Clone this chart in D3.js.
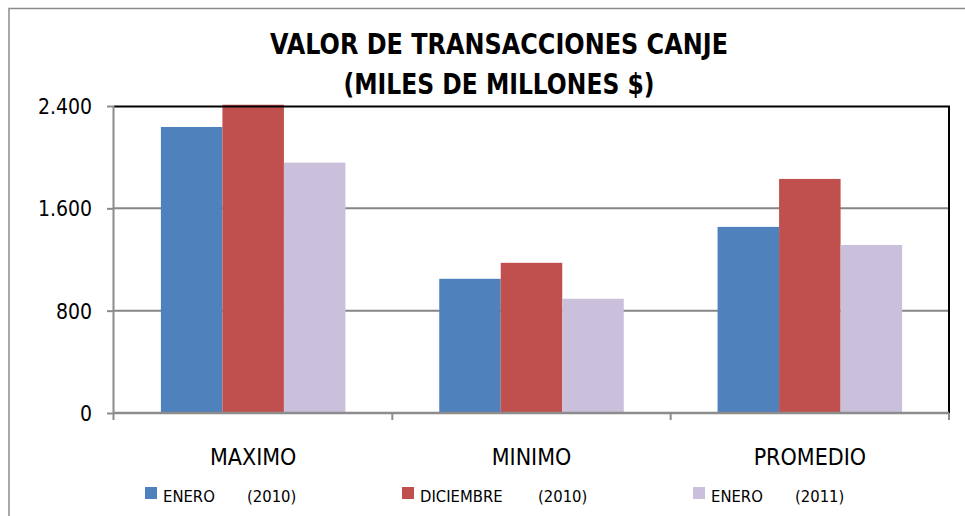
<!DOCTYPE html>
<html>
<head>
<meta charset="utf-8">
<script src="https://cdn.jsdelivr.net/npm/d3@7"></script>
<style>
  body { margin: 0; background: #fff; }
  svg text { font-family: "Liberation Sans Narrow", "DejaVu Sans Condensed", "Noto Sans", sans-serif; fill: #000; }
</style>
</head>
<body>
<div id="chart"></div>
<script>
// Chart data
var categories = ["MAXIMO", "MINIMO", "PROMEDIO"];
var seriesMonths = ["ENERO", "DICIEMBRE", "ENERO"];
var seriesYears = ["(2010)", "(2010)", "(2011)"];
var enero2010 = [2236, 1049, 1455];
var diciembre2010 = [2410, 1174, 1830];
var enero2011 = [1957, 893, 1314];
var yTicks = [0, 800, 1600, 2400];
var yTickLabels = ["0", "800", "1.600", "2.400"];

var colors = ["#4f81bd", "#c0504d", "#cbc0dc"];
var seriesValues = [enero2010, diciembre2010, enero2011];

var svgWidth = 965;
var svgHeight = 516;

var margin = { top: 106, left: 114 };
var width = 949 - margin.left;
var height = 413 - margin.top;

var svg = d3.select("#chart")
  .append("svg")
  .attr("width", svgWidth)
  .attr("height", svgHeight);

// outer chart frame
svg.append("rect")
  .attr("x", 9).attr("y", 8.5)
  .attr("width", 965).attr("height", 520)
  .attr("fill", "none")
  .attr("stroke", "#8c8c8c")
  .attr("stroke-width", 1.5);

// Title
var title = svg.append("text")
  .attr("text-anchor", "middle")
  .style("font-size", "29px")
  .style("font-weight", "bold");
title.append("tspan").attr("x", 499).attr("y", 54)
  .attr("textLength", 458).attr("lengthAdjust", "spacingAndGlyphs")
  .text("VALOR DE TRANSACCIONES CANJE");
title.append("tspan").attr("x", 499).attr("y", 94)
  .attr("textLength", 311).attr("lengthAdjust", "spacingAndGlyphs")
  .text("(MILES DE MILLONES $)");

var chartGroup = svg.append("g")
  .attr("transform", `translate(${margin.left}, ${margin.top})`);

// Scales
var x0 = d3.scaleBand()
  .domain(categories)
  .range([0, width]);

var x1 = d3.scaleBand()
  .domain(d3.range(seriesValues.length))
  .range([x0.bandwidth() * 0.1685, x0.bandwidth() * 0.8315]);

var yScale = d3.scaleLinear()
  .domain([0, 2400])
  .range([height, 0]);

// Gridlines
chartGroup.append("g")
  .selectAll("line")
  .data(yTicks.slice(1, 3))
  .enter()
  .append("line")
  .attr("x1", 0)
  .attr("x2", width)
  .attr("y1", d => yScale(d))
  .attr("y2", d => yScale(d))
  .attr("stroke", "#868686")
  .attr("stroke-width", 2);

// Bars
categories.forEach(function(cat, ci) {
  chartGroup.append("g")
    .selectAll("rect")
    .data(seriesValues.map((vals, si) => ({ si: si, v: vals[ci] })))
    .enter()
    .append("rect")
    .attr("x", d => x0(cat) + x1(d.si))
    .attr("width", x1.bandwidth())
    .attr("y", d => yScale(d.v))
    .attr("height", d => height - yScale(d.v))
    .attr("fill", d => colors[d.si]);
});

// Plot area border top/right (black)
chartGroup.append("path")
  .attr("d", `M0,0.5H${width}V${height}`)
  .attr("fill", "none")
  .attr("stroke", "#000")
  .attr("stroke-width", 2);

// Left axis
var leftAxis = d3.axisLeft(yScale)
  .tickValues(yTicks)
  .tickSize(7)
  .tickPadding(15)
  .tickFormat((d, i) => yTickLabels[i]);

var yAxisG = chartGroup.append("g").call(leftAxis);
yAxisG.select(".domain").attr("stroke", "#8c8c8c").attr("stroke-width", 2).attr("d", `M-0.5,0V${height + 7}`);
yAxisG.selectAll(".tick line").attr("stroke", "#8c8c8c").attr("stroke-width", 2);
yAxisG.selectAll(".tick text")
  .style("font-size", "21px")
  .attr("dy", "0.35em");

// Bottom axis
var bottomAxis = d3.axisBottom(x0).tickSize(0).tickPadding(36);
var xAxisG = chartGroup.append("g")
  .attr("transform", `translate(0, ${height})`)
  .call(bottomAxis);
xAxisG.select(".domain").attr("stroke", "#8c8c8c").attr("stroke-width", 2.5).attr("d", `M0,0H${width}`);
xAxisG.selectAll(".tick text").style("font-size", "23px");

// category boundary ticks
xAxisG.selectAll("line.sep")
  .data(categories.map(c => x0(c) + x0.bandwidth()))
  .enter()
  .append("line")
  .attr("class", "sep")
  .attr("x1", d => d).attr("x2", d => d)
  .attr("y1", 0).attr("y2", 7)
  .attr("stroke", "#8c8c8c")
  .attr("stroke-width", 2);

// Legend
var legendX = [145, 402, 693];
var yearOffset = [102, 136, 102];
var legend = svg.append("g")
  .selectAll("g")
  .data(seriesMonths)
  .enter()
  .append("g")
  .attr("transform", (d, i) => `translate(${legendX[i]}, 487)`);

legend.append("rect")
  .attr("width", 12)
  .attr("height", 12)
  .attr("fill", (d, i) => colors[i]);

legend.append("text")
  .attr("x", 18)
  .attr("y", 15)
  .style("font-size", "16.5px")
  .text(d => d);

legend.append("text")
  .attr("x", (d, i) => yearOffset[i])
  .attr("y", 15)
  .style("font-size", "16.5px")
  .text((d, i) => seriesYears[i]);
</script>
</body>
</html>
